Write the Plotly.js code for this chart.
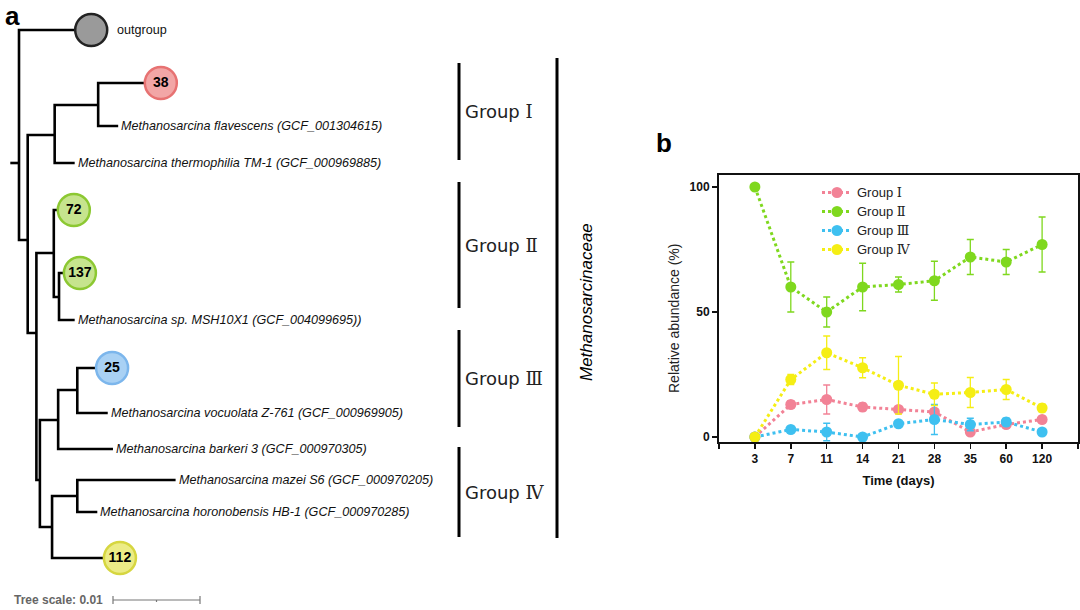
<!DOCTYPE html>
<html><head><meta charset="utf-8">
<script src="https://cdn.plot.ly/plotly-3.0.1.min.js"></script>
<style>html,body{margin:0;padding:0;background:#fff}</style>
</head><body><div id="chart" style="width:1080px;height:610px"></div>
<script>
// ---------- panel b data ----------
const days = ['3','7','11','14','21','28','35','60','120'];
const seriesNames = ['Group Ⅰ','Group Ⅱ','Group Ⅲ','Group Ⅳ'];
const groupI      = [0, 13, 15, 12, 11, 10, 2, 5, 7];
const groupIErr   = [0, 1.5, 5.8, 1.5, 1, 1, 1, 1, 1];
const groupII     = [100, 60, 50, 60, 61, 62.5, 72, 70, 77];
const groupIIErr  = [0, 10, 6, 9.5, 3, 7.8, 7, 5, 11];
const groupIII    = [0, 3, 2, 0, 5.3, 7, 5, 6, 2];
const groupIIIErr = [0, 0.8, 3.5, 0.5, 1, 6, 2.5, 1.5, 1];
const groupIV     = [0, 23, 33.7, 27.7, 20.7, 17.1, 17.8, 19, 11.6];
const groupIVErr  = [0, 2, 6.7, 4, 11.5, 4.5, 6, 4, 1.5];
const yTitle = 'Relative abundance (%)';
const xTitle = 'Time (days)';

// ---------- panel a tree data (depth in 0.001 substitutions/site) ----------
const nodeId     = ['root','out','A','G1','D','c38','flav','therm','B','G2','c72','E','c137','msh','C','G3','F','c25','vocu','bark','G4','H','mazei','horo','c112'];
const nodeParent = ['','root','root','A','G1','D','D','G1','A','B','G2','G2','E','E','B','C','G3','F','F','G3','C','G4','H','H','G4'];
const nodeDepth  = [0, 8.3, 1.0, 4.1, 9.1, 16.3, 11.4, 6.4, 2.0, 4.0, 6.3, 4.6, 7.0, 6.4, 2.4, 4.5, 6.7, 10.7, 10.2, 10.8, 3.8, 6.7, 18.0, 9.0, 11.6];
const nodeRow    = [163, 30, 240, 135, 105, 83, 126, 163, 333, 253, 210, 297, 273, 320, 480, 420, 390, 368, 413, 449, 527, 496, 480, 512, 558];
const circleNodes = ['out','c38','c72','c137','c25','c112'];
const circleTexts = ['','38','72','137','25','112'];
const leafNodes  = ['out','flav','therm','msh','vocu','bark','mazei','horo'];
const leafTexts  = ['outgroup',
  'Methanosarcina flavescens (GCF_001304615)',
  'Methanosarcina thermophilia TM-1 (GCF_000969885)',
  'Methanosarcina sp. MSH10X1 (GCF_004099695))',
  'Methanosarcina vocuolata Z-761 (GCF_000969905)',
  'Methanosarcina barkeri 3 (GCF_000970305)',
  'Methanosarcina mazei S6 (GCF_000970205)',
  'Methanosarcina horonobensis HB-1 (GCF_000970285)'];
const cladeNames  = ['Ⅰ','Ⅱ','Ⅲ','Ⅳ'];
const cladeTop    = [63, 182, 330, 447];
const cladeBottom = [160, 308, 427, 537];
const familyName  = 'Methanosarcinaceae';
const treeScaleValue = 0.01;

// ---------- styles ----------
const seriesColors = ['#f28296','#7fd81e','#3ec0f0','#f5ee14'];
const circleFill = ['#9a9a9a','#f2a6a6','#c6e48e','#c6e48e','#a9d1f4','#ecec86'];
const circleLine = ['#222222','#e77272','#8cc832','#8cc832','#7cb6ec','#d6d640'];
const PX = 8.7, X0 = 19; // tree pixels per 0.001 unit and root pixel
const W = 1080, H = 610;
const SANS = 'Liberation Sans, Arial, sans-serif';
const serifSpan = s => '<span style="font-family:\'DejaVu Serif\', serif">' + s + '</span>';

// ---------- build tree ----------
const idx = {}; nodeId.forEach((n,i)=>idx[n]=i);
const children = {}; nodeParent.forEach((p,i)=>{ if(p){ (children[p]=children[p]||[]).push(i);} });
const tx = [], ty = [];
Object.keys(children).forEach(p=>{
  const pi = idx[p]; const ch = children[p];
  const a = ch[0], b = ch[1];
  tx.push(nodeDepth[a], nodeDepth[pi], nodeDepth[pi], nodeDepth[b], null);
  ty.push(nodeRow[a], nodeRow[a], nodeRow[b], nodeRow[b], null);
});
tx.push(-1, 0, null); ty.push(nodeRow[idx.root], nodeRow[idx.root], null); // root stub

const traces = [];
traces.push({x:tx, y:ty, xaxis:'x2', yaxis:'y2', mode:'lines', showlegend:false, hoverinfo:'skip',
  line:{color:'#000', width:2.6}});
traces.push({x:circleNodes.map(n=>nodeDepth[idx[n]]), y:circleNodes.map(n=>nodeRow[idx[n]]),
  text:circleTexts, xaxis:'x2', yaxis:'y2', mode:'markers+text', textposition:'middle center',
  showlegend:false, hoverinfo:'skip',
  textfont:{family:SANS, size:14, color:'#000', weight:'bold'},
  marker:{size:32, color:circleFill, line:{color:circleLine, width:2.5}}});
const sb0 = (113 - X0)/PX, sb1 = sb0 + treeScaleValue*1000;
traces.push({x:[sb0, sb0, null, sb0, sb1, null, sb1, sb1, null, (sb0+sb1)/2, (sb0+sb1)/2],
  y:[596, 604, null, 600, 600, null, 596, 604, null, 600, 602], xaxis:'x2', yaxis:'y2', mode:'lines',
  showlegend:false, hoverinfo:'skip', line:{color:'#777', width:1.2}});

// ---------- panel b series ----------
const vals = [groupI, groupII, groupIII, groupIV];
const errs = [groupIErr, groupIIErr, groupIIIErr, groupIVErr];
const xi = days.map((d,i)=>i);
vals.forEach((v,k)=>{
  traces.push({x:xi, y:v,
    name:'<span style="font-size:13px">' + seriesNames[k].replace(/(Ⅰ|Ⅱ|Ⅲ|Ⅳ)/, serifSpan('$1')) + '</span>',
    mode:'lines+markers', xaxis:'x', yaxis:'y',
    line:{color:seriesColors[k], width:3, dash:'dot'},
    marker:{color:seriesColors[k], size:11},
    error_y:{type:'data', array:errs[k], visible:true, color:seriesColors[k], thickness:1.3, width:3.5}});
});

const annotations = [];
leafNodes.forEach((n,i)=>{
  const isOut = n === 'out';
  annotations.push({xref:'x2', yref:'y2', x:nodeDepth[idx[n]], y:nodeRow[idx[n]], text:leafTexts[i],
    showarrow:false, xanchor:'left', yanchor:'middle', xshift: isOut ? 24 : 1,
    font:{family:SANS, size:12.6, color:'#111', style: isOut ? 'normal' : 'italic'}});
});
const shapes = [];
const barX = (459 - X0)/PX, famX = (557 - X0)/PX;
cladeNames.forEach((c,i)=>{
  shapes.push({type:'line', xref:'x2', yref:'y2', x0:barX, x1:barX, y0:cladeTop[i], y1:cladeBottom[i], line:{color:'#000', width:3}});
  annotations.push({xref:'x2', yref:'y2', x:barX, y:(cladeTop[i]+cladeBottom[i])/2, xshift:4,
    text:'Group ' + serifSpan(c), showarrow:false, xanchor:'left', yanchor:'middle',
    font:{family:'DejaVu Sans, sans-serif', size:18, color:'#222'}});
});
shapes.push({type:'line', xref:'x2', yref:'y2', x0:famX, x1:famX, y0:58, y1:538, line:{color:'#000', width:3}});
annotations.push({xref:'x2', yref:'y2', x:famX, y:302, xshift:29, text:familyName, textangle:-90, showarrow:false,
  font:{family:SANS, size:17, color:'#000', style:'italic'}});
annotations.push({xref:'paper', yref:'paper', x:105/W, y:1-600/H, text:'Tree scale: '+treeScaleValue, showarrow:false,
  xanchor:'right', yanchor:'middle', font:{family:SANS, size:12, color:'#666', weight:'bold'}});
annotations.push({xref:'paper', yref:'paper', x:4/W, y:1, text:'a', showarrow:false, xanchor:'left', yanchor:'top', borderpad:0,
  font:{family:SANS, size:26, color:'#000', weight:'bold'}});
annotations.push({xref:'paper', yref:'paper', x:654/W, y:1-143/H, text:'b', showarrow:false, xanchor:'left', yanchor:'middle',
  font:{family:SANS, size:26, color:'#000', weight:'bold'}});
annotations.push({xref:'paper', yref:'paper', x:674/W, y:1-319/H, text:yTitle, textangle:-90, showarrow:false,
  xanchor:'center', yanchor:'middle', font:{family:SANS, size:14, color:'#222'}});

const tickFont = {family:SANS, size:12, color:'#111', weight:'bold'};
const layout = {
  width:W, height:H, margin:{l:0, r:0, t:0, b:0}, paper_bgcolor:'#fff', plot_bgcolor:'rgba(0,0,0,0)',
  showlegend:true,
  legend:{x:817/W, y:1-178/H, xanchor:'left', yanchor:'top', bgcolor:'rgba(0,0,0,0)', tracegroupgap:0,
    font:{family:SANS, size:12, color:'#222'}, itemwidth:30},
  xaxis:{domain:[719/W, 1078/W], range:[-1, 9], tickvals:[-1].concat(xi, [9]), ticktext:[''].concat(days, ['']),
    ticks:'outside', ticklen:5, tickwidth:1.5, tickcolor:'#111', showline:true, linewidth:2, linecolor:'#111', mirror:true,
    showgrid:false, zeroline:false, tickfont:tickFont, anchor:'y',
    title:{text:xTitle, font:{family:SANS, size:13, color:'#111', weight:'bold'}, standoff:10}},
  yaxis:{domain:[1-442/H, 1-175/H], range:[-2, 104.8], tickvals:[0,50,100], ticks:'outside', ticklen:5, tickwidth:1.5,
    tickcolor:'#111', showline:true, linewidth:2, linecolor:'#111', mirror:true, showgrid:false, zeroline:false,
    tickfont:tickFont, anchor:'x'},
  xaxis2:{domain:[0,1], range:[-X0/PX, (W-X0)/PX], visible:false, anchor:'y2'},
  yaxis2:{domain:[0,1], range:[H, 0], visible:false, anchor:'x2'},
  shapes:shapes, annotations:annotations
};
Plotly.newPlot('chart', traces, layout, {staticPlot:true, displayModeBar:false});
</script></body></html>
